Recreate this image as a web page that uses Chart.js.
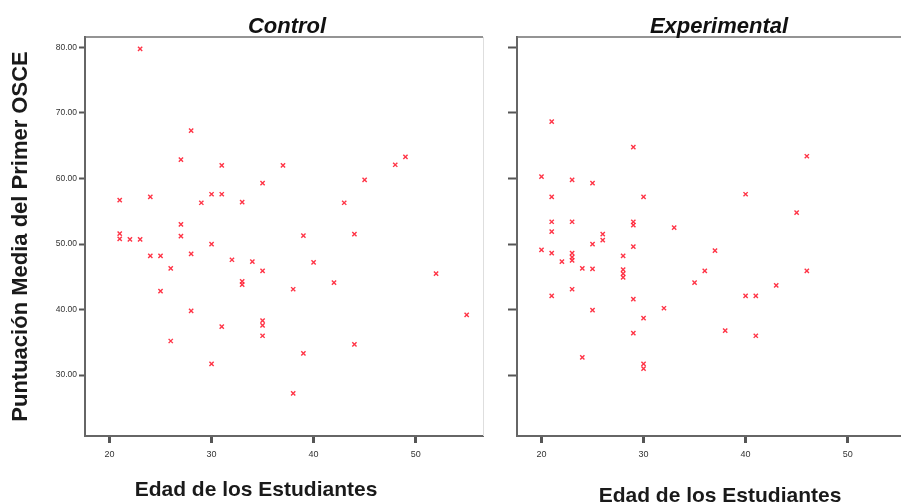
<!DOCTYPE html>
<html>
<head>
<meta charset="utf-8">
<script src="https://cdn.jsdelivr.net/npm/chart.js@4.4.1/dist/chart.umd.min.js"></script>
<style>
  html, body { margin: 0; padding: 0; background: #fff; width: 901px; height: 504px; overflow: hidden; }
  .wrap { position: absolute; top: 0; height: 504px; }
  #w1 { left: 0; width: 500px; }
  #w2 { left: 500px; width: 440px; }
</style>
</head>
<body>
<div class="wrap" id="w1"><canvas id="controlC"></canvas></div>
<div class="wrap" id="w2"><canvas id="expC"></canvas></div>
<script>
// Edad / puntuación
const controlAge   = [23, 28, 27, 31, 37, 35, 21, 24, 30, 31, 29, 33, 27, 21, 21, 22, 23, 27, 30, 24, 25, 28, 26, 32, 34,
                      35, 33, 33, 25, 28, 26, 30, 31, 35, 35, 35, 38, 38, 39, 44, 40, 42, 52, 55, 44, 39, 45, 48, 49, 43];
const controlScore = [79.8, 67.3, 62.9, 62.0, 62.0, 59.3, 56.7, 57.2, 57.6, 57.6, 56.3, 56.4, 53.0, 51.6, 50.8, 50.7, 50.7, 51.2, 50.0, 48.2, 48.2, 48.5, 46.3, 47.6, 47.3,
                      45.9, 44.3, 43.8, 42.8, 39.8, 35.2, 31.7, 37.4, 38.3, 37.6, 36.0, 43.1, 27.2, 51.3, 51.5, 47.2, 44.1, 45.5, 39.2, 34.7, 33.3, 59.8, 62.1, 63.3, 56.3];

const expAge   = [21, 29, 20, 23, 25, 21, 30, 21, 23, 29, 29, 33, 21, 26, 26, 25, 29, 20, 21, 23, 23, 23, 22, 28, 24, 25,
                  28, 28, 28, 21, 23, 29, 25, 32, 30, 29, 24, 30, 30, 46, 40, 45, 37, 36, 35, 40, 41, 43, 46, 38, 41];
const expScore = [68.7, 64.8, 60.3, 59.8, 59.3, 57.2, 57.2, 53.4, 53.4, 53.4, 52.9, 52.5, 51.9, 51.5, 50.6, 50.0, 49.6, 49.1, 48.6, 48.6, 48.0, 47.5, 47.3, 48.2, 46.3, 46.2,
                  46.1, 45.5, 44.9, 42.1, 43.1, 41.6, 39.9, 40.2, 38.7, 36.4, 32.7, 31.7, 31.0, 63.4, 57.6, 54.8, 49.0, 45.9, 44.1, 42.1, 42.1, 43.7, 45.9, 36.8, 36.0];

const xTicks = [20, 30, 40, 50];
const yTicks = [30, 40, 50, 60, 70, 80];

const FONT = '"Liberation Sans", Arial, sans-serif';
const AXIS = '#666';

// títulos del panel y del eje X, y el marco superior/derecho
const panelText = {
  id: 'panelText',
  afterDraw(chart, args, o) {
    const { ctx, chartArea: a } = chart;
    ctx.save();
    ctx.lineWidth = 1.5;
    ctx.strokeStyle = '#707070';
    ctx.beginPath(); ctx.moveTo(a.left, a.top); ctx.lineTo(a.right, a.top); ctx.stroke();
    if (o.rightEdge) {
      ctx.lineWidth = 1;
      ctx.strokeStyle = '#dedede';
      ctx.beginPath(); ctx.moveTo(a.right + 0.5, a.top); ctx.lineTo(a.right + 0.5, a.bottom); ctx.stroke();
    }
    ctx.fillStyle = '#111';
    ctx.textAlign = 'center';
    ctx.textBaseline = 'alphabetic';
    ctx.font = 'italic bold 22px ' + FONT;
    ctx.fillText(o.title, (a.left + a.right) / 2 + 3, a.top - 4);
    ctx.fillStyle = '#1a1a1a';
    ctx.font = 'bold 21px ' + FONT;
    ctx.fillText(o.xTitle, o.xTitleX, o.xTitleY);
    ctx.restore();
  }
};

function makeChart(id, ages, scores, cfg) {
  return new Chart(document.getElementById(id), {
    type: 'scatter',
    data: {
      datasets: [{
        data: ages.map((x, i) => ({ x, y: scores[i] })),
        pointStyle: 'crossRot',
        pointRadius: 3,
        pointBorderWidth: 1.4,
        pointBorderColor: 'rgba(255,30,50,0.9)',
        pointBackgroundColor: 'rgba(255,30,50,0.9)',
        pointHoverRadius: 3,
      }],
    },
    options: {
      responsive: true,
      maintainAspectRatio: false,
      animation: false,
      events: [],
      layout: { padding: { top: 37, right: cfg.padRight, bottom: 0, left: 0 } },
      plugins: {
        legend: { display: false },
        tooltip: { enabled: false },
        panelText: cfg.text,
      },
      scales: {
        x: {
          type: 'linear',
          min: 17.6, max: 56.6,
          afterBuildTicks: s => { s.ticks = xTicks.map(v => ({ value: v })); },
          afterFit: s => { s.height = 68; },
          grid: { drawOnChartArea: false, drawTicks: true, tickLength: 7, tickWidth: 3, tickColor: '#555' },
          border: { display: true, color: AXIS, width: 2 },
          ticks: { autoSkip: false, maxRotation: 0, padding: 6, color: '#333', font: { size: 9, family: FONT } },
        },
        y: {
          type: 'linear',
          min: 20.7, max: 81.6,
          afterBuildTicks: s => { s.ticks = yTicks.map(v => ({ value: v })); },
          afterFit: s => { s.width = cfg.yWidth; },
          grid: { drawOnChartArea: false, drawTicks: true, tickLength: cfg.yTickLen, tickWidth: 2, tickColor: '#555' },
          border: { display: true, color: AXIS, width: 2 },
          ticks: {
            display: cfg.yLabels,
            padding: 2,
            color: '#333',
            font: { size: 8.5, family: FONT },
            callback: v => v.toFixed(2),
          },
          title: {
            display: !!cfg.yTitle,
            text: cfg.yTitle || '',
            color: '#1a1a1a',
            font: { size: 22, weight: 'bold', family: FONT },
            padding: { top: 8, bottom: 0 },
          },
        },
      },
    },
    plugins: [panelText],
  });
}

makeChart('controlC', controlAge, controlScore, {
  padRight: 17, yWidth: 85, yTickLen: 6, yLabels: true,
  yTitle: 'Puntuación Media del Primer OSCE',
  text: { title: 'Control', xTitle: 'Edad de los Estudiantes', xTitleX: 256, xTitleY: 496, rightEdge: true },
});

makeChart('expC', expAge, expScore, {
  padRight: 25, yWidth: 17, yTickLen: 9, yLabels: false,
  yTitle: null,
  text: { title: 'Experimental', xTitle: 'Edad de los Estudiantes', xTitleX: 220, xTitleY: 502, rightEdge: false },
});
</script>
</body>
</html>
